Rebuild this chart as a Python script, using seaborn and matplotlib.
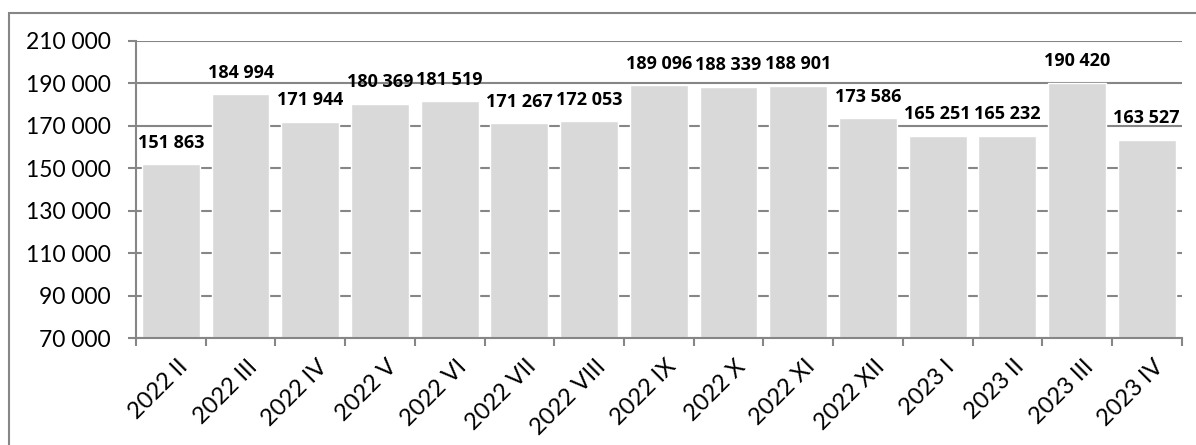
"""
Monthly totals bar chart, 2022 II - 2023 IV
"""
import matplotlib
matplotlib.use("Agg")
import matplotlib.pyplot as plt
from matplotlib.patches import Rectangle
from matplotlib.ticker import FixedLocator, FuncFormatter
from matplotlib.transforms import ScaledTranslation
import seaborn as sns

sns.set_style("white")
plt.rcParams["font.family"] = ["Lato", "DejaVu Sans"]

PERIODS = [
    "2022 II", "2022 III", "2022 IV", "2022 V", "2022 VI", "2022 VII",
    "2022 VIII", "2022 IX", "2022 X", "2022 XI", "2022 XII", "2023 I",
    "2023 II", "2023 III", "2023 IV",
]
VALUES = [
    151863, 184994, 171944, 180369, 181519, 171267, 172053, 189096,
    188339, 188901, 173586, 165251, 165232, 190420, 163527,
]
Y_TICKS = [70000, 90000, 110000, 130000, 150000, 170000, 190000, 210000]

BAR_COLOR = "#d9d9d9"
LINE_COLOR = "#868686"


def fmt_space(val, _pos=None):
    """thousands separated by a space"""
    return f"{val:,.0f}".replace(",", " ")


def main():
    fig = plt.figure(figsize=(11.96, 4.45), dpi=100)
    ax = fig.add_axes([0.1137, 0.2404, 0.988 - 0.1137, 0.9079 - 0.2404])

    sns.barplot(x=PERIODS, y=VALUES, color=BAR_COLOR, saturation=1,
                width=0.83, ax=ax, zorder=2)

    ax.set_ylim(70000, 210000)
    ax.set_xlim(-0.5, len(PERIODS) - 0.5)
    ax.set_yticks(Y_TICKS)
    ax.yaxis.set_major_formatter(FuncFormatter(fmt_space))
    ax.grid(axis="y", color=LINE_COLOR, linewidth=1.5, zorder=1)
    ax.set_axisbelow(True)

    for side in ("top", "right"):
        ax.spines[side].set_visible(False)
    for side in ("left", "bottom"):
        ax.spines[side].set_color(LINE_COLOR)
        ax.spines[side].set_linewidth(1.5)

    # category boundary ticks on x, labels at centres
    ax.xaxis.set_minor_locator(
        FixedLocator([i - 0.5 for i in range(len(PERIODS) + 1)]))
    ax.tick_params(axis="x", which="major", length=0, pad=13,
                   labelcolor="black")
    ax.tick_params(axis="x", which="minor", length=6, width=1.5,
                   color=LINE_COLOR, direction="out", bottom=True)
    ax.tick_params(axis="y", length=6, width=1.5, color=LINE_COLOR,
                   direction="out", left=True, labelsize=16.5, pad=12,
                   labelcolor="black")
    shift = ScaledTranslation(6 / 100, 0, fig.dpi_scale_trans)
    for lbl in ax.get_xticklabels():
        lbl.set_rotation(45)
        lbl.set_ha("right")
        lbl.set_va("top")
        lbl.set_rotation_mode("anchor")
        lbl.set_fontsize(17)
        lbl.set_transform(lbl.get_transform() + shift)

    for i, val in enumerate(VALUES):
        ax.annotate(fmt_space(val), (i, val), xytext=(0, 9),
                    textcoords="offset points", ha="center", va="bottom",
                    fontsize=13, fontweight="bold", color="black",
                    family=["Open Sans", "DejaVu Sans"],
                    annotation_clip=False)

    ax.set_xlabel("")
    ax.set_ylabel("")

    # outer chart frame (cropped at right and bottom)
    fig.patches.append(Rectangle(
        (9 / 1196, -0.05), 1.1, 1 - 13 / 445 + 0.05,
        transform=fig.transFigure, fill=False,
        edgecolor=LINE_COLOR, linewidth=1.5))

    fig.savefig("out.png", dpi=100)


if __name__ == "__main__":
    main()
